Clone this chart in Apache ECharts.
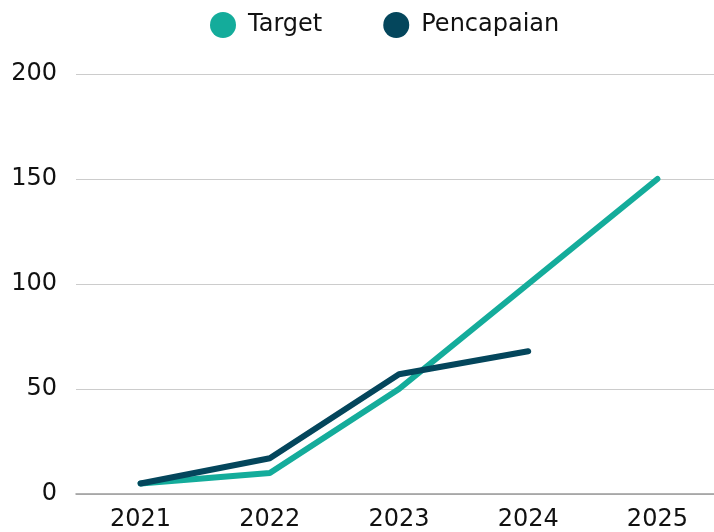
<!DOCTYPE html>
<html><head><meta charset="utf-8">
<script src="https://cdn.jsdelivr.net/npm/echarts@6/dist/echarts.min.js"></script>
<style>html,body{margin:0;padding:0;background:#fff;overflow:hidden}#c{width:722px;height:532px}</style>
</head><body><div id="c"></div>
<script>
const categories = ['2021','2022','2023','2024','2025'];
const targetValues = [5, 10, 50, 100, 150];
const pencapaianValues = [5, 17, 57, 68, null];
const seriesNames = ['Target','Pencapaian'];
const colors = ['#14AC9B','#04465C'];
const FONT = 'DejaVu Sans';
const chart = echarts.init(document.getElementById('c'), null, {renderer:'canvas'});
chart.setOption({
  animation:false,
  color: colors,
  textStyle:{fontFamily:FONT},
  legend:{
    top: 7, left: 205,
    icon:'circle', itemWidth:26, itemHeight:26, itemGap:61,
    textStyle:{fontFamily:FONT, fontSize:24, color:'#111', padding:[0,0,0,7]},
    data: seriesNames
  },
  grid:{left:76, right:0, top:74, bottom:38, containLabel:false},
  xAxis:{
    type:'category', data: categories, boundaryGap:true,
    axisLine:{lineStyle:{color:'#9a9a9a', width:1.5}},
    axisTick:{show:false},
    axisLabel:{fontFamily:FONT, fontSize:24, color:'#111', margin:14}
  },
  yAxis:{
    type:'value', min:0, max:200, interval:50,
    axisLine:{show:false}, axisTick:{show:false},
    splitLine:{lineStyle:{color:'#cccccc', width:1}},
    axisLabel:{fontFamily:FONT, fontSize:24, color:'#111', margin:19}
  },
  series:[
    {name:seriesNames[0], type:'line', data: targetValues, symbol:'none',
     lineStyle:{width:6, cap:'round', join:'round', color:colors[0]}, itemStyle:{color:colors[0]}, z:2},
    {name:seriesNames[1], type:'line', data: pencapaianValues, symbol:'none',
     lineStyle:{width:6, cap:'round', join:'round', color:colors[1]}, itemStyle:{color:colors[1]}, z:3}
  ]
});
</script></body></html>
